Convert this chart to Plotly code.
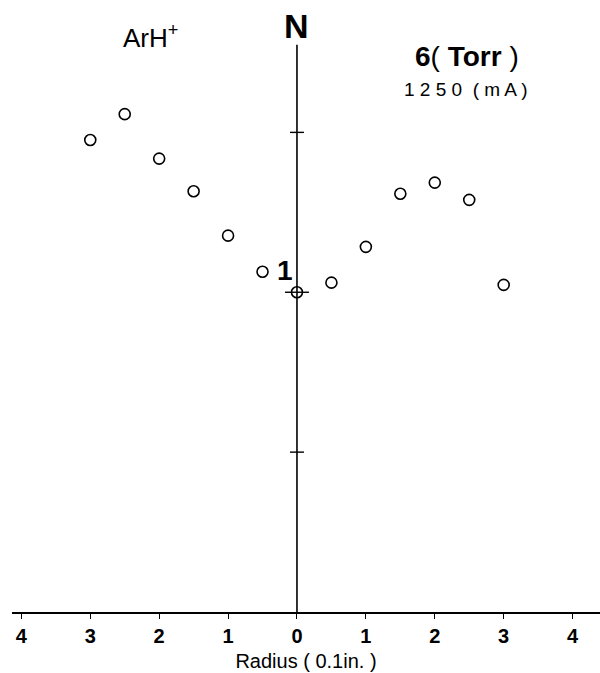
import plotly.graph_objects as go

# Radial profile of ArH+ density, normalised to 1 at the centre
radius = [-3.0, -2.5, -2.0, -1.5, -1.0, -0.5, 0.0, 0.5, 1.0, 1.5, 2.0, 2.5, 3.0]
density = [1.476, 1.557, 1.418, 1.316, 1.177, 1.064, 1.000, 1.030, 1.142, 1.308, 1.343, 1.289, 1.023]

x_ticks = [-4, -3, -2, -1, 0, 1, 2, 3, 4]
x_tick_text = ["4", "3", "2", "1", "0", "1", "2", "3", "4"]
n_ticks = [0.5, 1.0, 1.5]
n_axis_top = 1.774

fig = go.Figure()

fig.add_trace(go.Scatter(
    x=radius, y=density, mode="markers",
    marker=dict(symbol="circle-open", size=11, color="black", line=dict(width=1.6)),
    showlegend=False, hoverinfo="skip", cliponaxis=False,
))

shapes = []
# vertical N axis through r = 0
shapes.append(dict(type="line", xref="x", yref="y", x0=0, x1=0, y0=0, y1=n_axis_top,
                   line=dict(color="black", width=1.6)))
for t in n_ticks:
    half = 12 if t == 1.0 else 7
    shapes.append(dict(type="line", xref="x", yref="y", xsizemode="pixel", xanchor=0,
                       x0=-half, x1=half, y0=t, y1=t,
                       line=dict(color="black", width=1.4)))

annotations = [
    dict(x=0, y=n_axis_top, xref="x", yref="y", text="<b>N</b>", showarrow=False,
         yanchor="bottom", yshift=-2, font=dict(family="Liberation Sans", size=34, color="black")),
    dict(x=-0.17, y=1.0, xref="x", yref="y", text="<b>1</b>", showarrow=False,
         yanchor="bottom", yshift=4, font=dict(family="Liberation Sans", size=28, color="black")),
    dict(x=-2.13, y=1.80, xref="x", yref="y", text="ArH<sup>+</sup>", showarrow=False,
         font=dict(family="Liberation Sans", size=26, color="black")),
    dict(x=2.47, y=1.736, xref="x", yref="y",
         text="<b>6</b>( <b>Torr</b> )",
         showarrow=False, font=dict(family="Liberation Sans", size=28, color="black")),
    dict(x=2.45, y=1.633, xref="x", yref="y", text="1 2 5 0  ( m A )", showarrow=False,
         font=dict(family="Liberation Sans", size=19, color="black")),
]

fig.update_layout(
    width=600, height=673,
    margin=dict(l=12, r=0, t=0, b=61),
    paper_bgcolor="white", plot_bgcolor="white",
    shapes=shapes, annotations=annotations,
    xaxis=dict(
        range=[-4.136, 4.398], tickvals=x_ticks, ticktext=x_tick_text,
        showgrid=False, zeroline=False, showline=True, linecolor="black", linewidth=1.6,
        ticks="outside", ticklen=5, tickwidth=1.4, tickcolor="black",
        tickfont=dict(family="Liberation Sans", size=20, color="black", weight="bold"),
        title=dict(text="Radius ( 0.1in. )", standoff=8,
                   font=dict(family="Liberation Sans", size=20, color="black")),
        fixedrange=True,
    ),
    yaxis=dict(range=[0, 1.914], visible=False, fixedrange=True),
)

fig.write_html("out.html")
